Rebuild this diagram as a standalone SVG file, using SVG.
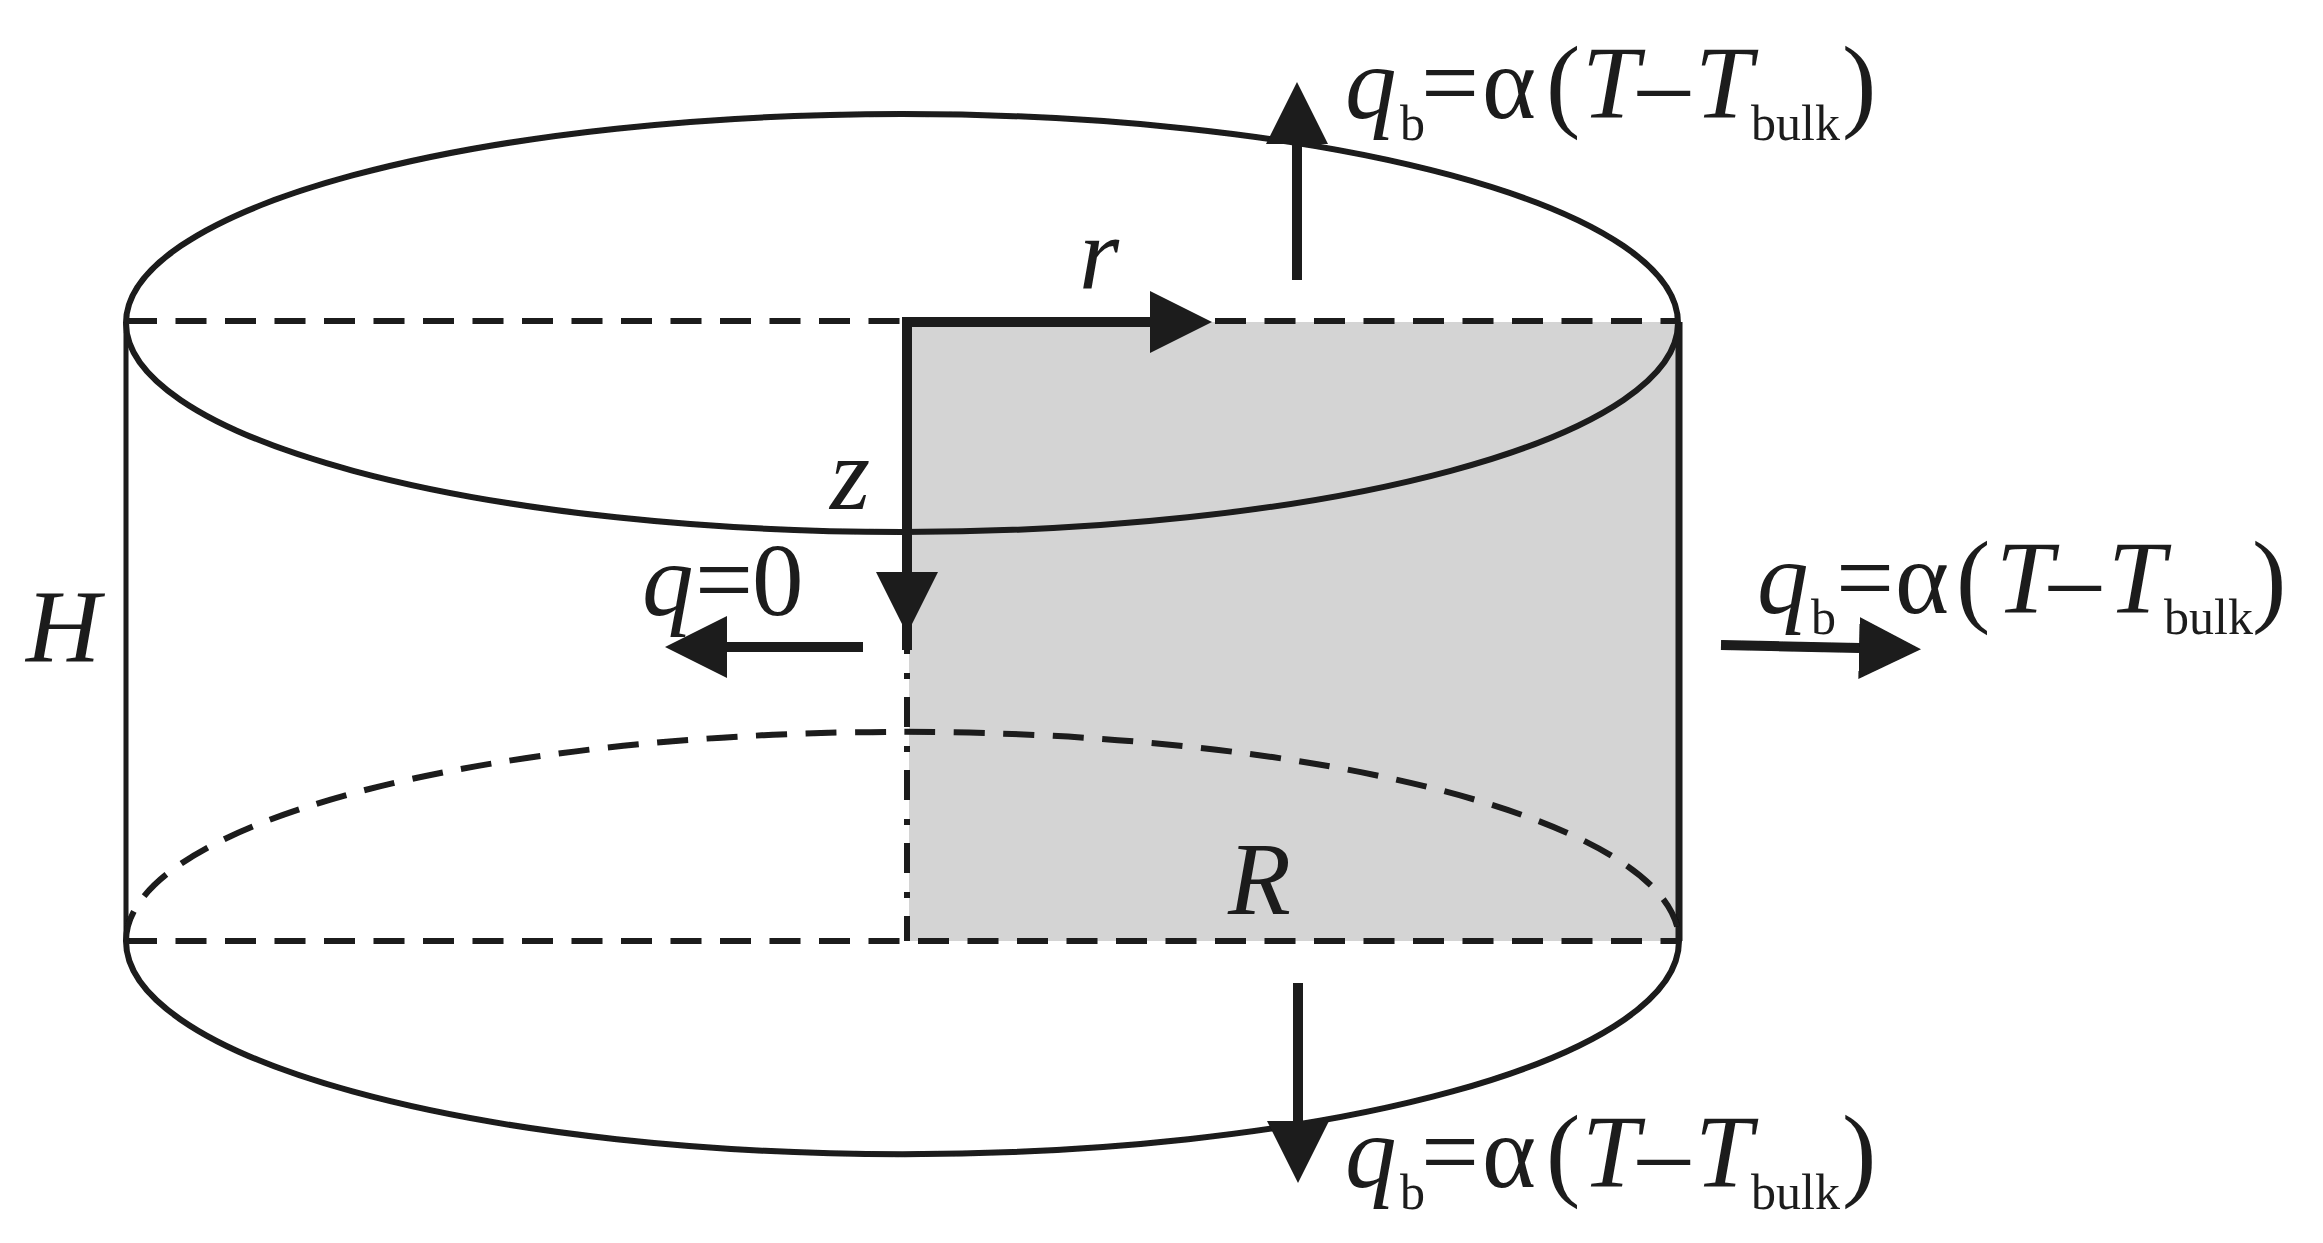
<svg xmlns="http://www.w3.org/2000/svg" width="2323" height="1243" viewBox="0 0 2323 1243">
<style>
.o{fill:none;stroke:#1a1a1a;stroke-width:6}
.d{stroke-width:6;stroke-dasharray:31 18.5}
.a{fill:none;stroke:#1a1a1a;stroke-width:10}
text{font-family:"Liberation Serif","Times New Roman",serif;font-size:103px;fill:#1a1a1a}
.i{font-style:italic}
.s{font-size:50px}
</style>
<defs>
<marker id="h" markerUnits="userSpaceOnUse" markerWidth="64" markerHeight="64" refX="1" refY="31" orient="auto"><path d="M0 0L62 31L0 62Z" fill="#1a1a1a"/></marker>
<filter id="soft" x="0" y="0" width="100%" height="100%"><feGaussianBlur stdDeviation="0.7"/></filter>
</defs>
<rect width="2323" height="1243" fill="#fff"/>
<g filter="url(#soft)">
<g id="cylinder">
<rect id="section" x="909" y="322" width="770" height="619" fill="#d4d4d4"/>
<ellipse class="o" cx="902" cy="323" rx="776" ry="209"/>
<path class="o" style="stroke-width:5" d="M126 322V941"/>
<path class="o" style="stroke-width:7" d="M1679 322V941"/>
<path class="o" d="M126 941A776 213 0 0 0 1679 941"/>
<path class="o d" d="M126 321H1679"/>
<path class="o d" d="M126 941H1679"/>
<path class="o d" d="M126 941A776 209 0 0 1 1679 941"/>
<path class="o" style="stroke-width:6;stroke-dasharray:30 19 6 18" d="M907 624V941"/>
</g>
<g id="connectors">
<path class="a" d="M902 322H1151" marker-end="url(#h)"/>
<path class="a" d="M907 318V573" marker-end="url(#h)"/>
<path class="a" d="M907 620V650"/>
<path class="a" d="M1297 280V143" marker-end="url(#h)"/>
<path class="a" d="M1298 983V1122" marker-end="url(#h)"/>
<path class="a" d="M1721 645L1860 648" marker-end="url(#h)"/>
<path class="a" d="M863 647H726" marker-end="url(#h)"/>
</g>
<g id="labels">
<text id="flux-top"><tspan class="i" x="1345" y="118">q</tspan><tspan class="s" x="1400" y="140">b</tspan><tspan x="1421" y="118">=</tspan><tspan x="1482" y="118">α</tspan><tspan x="1546" y="118">(</tspan><tspan class="i" x="1582" y="118">T</tspan><tspan x="1638" y="118">–</tspan><tspan class="i" x="1695" y="118">T</tspan><tspan class="s" x="1751" y="140">bulk</tspan><tspan x="1842" y="118">)</tspan></text>
<text id="flux-right"><tspan class="i" x="1757" y="613">q</tspan><tspan class="s" x="1811" y="634">b</tspan><tspan x="1836" y="613">=</tspan><tspan x="1895" y="613">α</tspan><tspan x="1956" y="613">(</tspan><tspan class="i" x="1996" y="613">T</tspan><tspan x="2049" y="613">–</tspan><tspan class="i" x="2108" y="613">T</tspan><tspan class="s" x="2164" y="634">bulk</tspan><tspan x="2252" y="613">)</tspan></text>
<text id="flux-bottom"><tspan class="i" x="1345" y="1187">q</tspan><tspan class="s" x="1400" y="1209">b</tspan><tspan x="1421" y="1187">=</tspan><tspan x="1482" y="1187">α</tspan><tspan x="1546" y="1187">(</tspan><tspan class="i" x="1582" y="1187">T</tspan><tspan x="1638" y="1187">–</tspan><tspan class="i" x="1695" y="1187">T</tspan><tspan class="s" x="1751" y="1209">bulk</tspan><tspan x="1842" y="1187">)</tspan></text>
<text id="flux-zero"><tspan class="i" x="642" y="615">q</tspan><tspan x="695" y="615">=</tspan><tspan x="752" y="615">0</tspan></text>
<text class="i" x="1079" y="289">r</text>
<text class="i" x="830" y="509">z</text>
<text class="i" x="26" y="662">H</text>
<text class="i" x="1228" y="914">R</text>
</g>
</g>
</svg>
